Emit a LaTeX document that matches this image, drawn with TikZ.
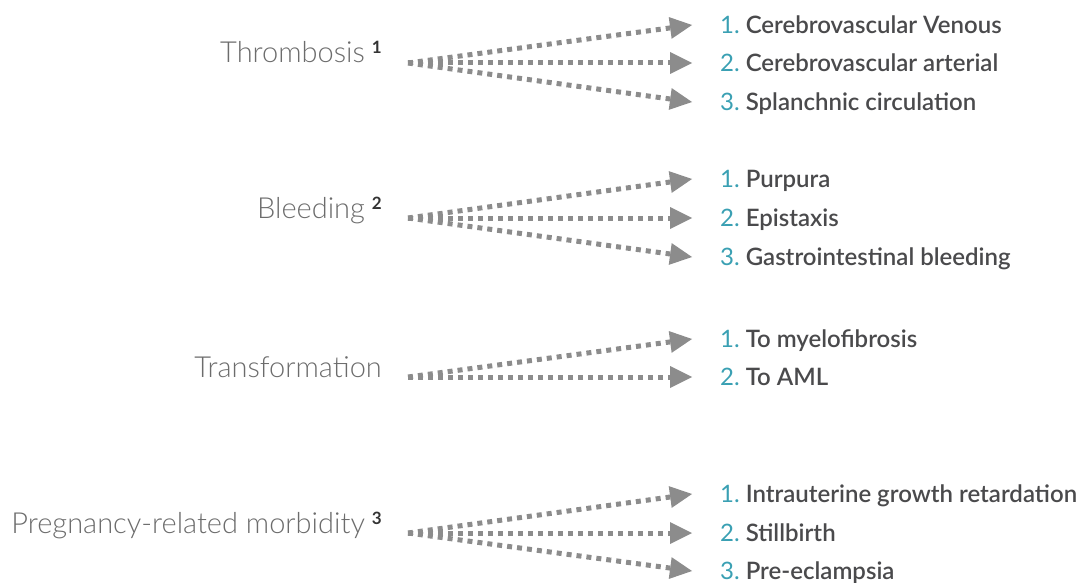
\documentclass[tikz,border=0pt]{standalone}
\usepackage{fontspec}
\setmainfont{Lato}
\newfontfamily\lightfont{Lato Light}
\newfontfamily\semifont{Lato Semibold}
\usetikzlibrary{arrows.meta,positioning}
\definecolor{causegray}{HTML}{6C6C6C}
\definecolor{notegray}{HTML}{333333}
\definecolor{itemgray}{HTML}{4A4A4C}
\definecolor{numteal}{HTML}{3AA0B3}
\definecolor{fangray}{HTML}{8C8C8C}
\newcommand\note[1]{\hspace{7pt}\raisebox{9pt}{\normalfont\fontsize{17}{17}\selectfont\bfseries\color{notegray}#1}}
\newcommand\itemno[1]{{\normalfont\fontsize{24}{24}\selectfont\color{numteal}#1}}

\begin{document}
\begin{tikzpicture}[x=1pt, y=-1pt,
    cause/.style={anchor=base east, inner sep=0pt, text=causegray, font=\lightfont\fontsize{29}{29}\selectfont},
    item/.style={anchor=west, inner xsep=28pt, inner ysep=0pt, text height=17pt, text depth=0pt, text=itemgray, font=\semifont\fontsize{24}{24}\selectfont},
    fan/.style={draw=fangray, line width=5pt, dash pattern=on 5pt off 5pt, -{Triangle[length=22pt, width=22pt, line width=0pt]}}]
    \useasboundingbox (0,0) rectangle (1079,583);

    % thrombosis
    \node[cause] (thr) at (382,63) {Thrombosis\note{1}};
    \coordinate (thr-o) at (408,63);
    \node[item] (thr-1) at (692,25) {\itemno{1.}\hspace{-2pt} Cerebrovascular Venous};
    \node[item] (thr-2) at (692,63) {\itemno{2.}\hspace{-2pt} Cerebrovascular arterial};
    \node[item] (thr-3) at (692,102) {\itemno{3.}\hspace{-2pt} Splanchnic circulation};

    % bleeding
    \node[cause] (ble) at (382,218) {Bleeding\note{2}};
    \coordinate (ble-o) at (408,218);
    \node[item] (ble-1) at (692,179) {\itemno{1.}\hspace{-2pt} Purpura};
    \node[item] (ble-2) at (692,218) {\itemno{2.}\hspace{-2pt} Epistaxis};
    \node[item] (ble-3) at (692,257) {\itemno{3.}\hspace{-2pt} Gastrointestinal bleeding};

    % transformation
    \node[cause] (tra) at (382,377) {Transformation};
    \coordinate (tra-o) at (408,377);
    \node[item] (tra-1) at (692,339) {\itemno{1.}\hspace{-2pt} To myelofibrosis};
    \node[item] (tra-2) at (692,377) {\itemno{2.}\hspace{-2pt} To AML};

    % pregnancy
    \node[cause] (pre) at (382,533) {Pregnancy-related morbidity\note{3}};
    \coordinate (pre-o) at (408,533);
    \node[item] (pre-1) at (692,494) {\itemno{1.}\hspace{-2pt} Intrauterine growth retardation};
    \node[item] (pre-2) at (692,533) {\itemno{2.}\hspace{-2pt} Stillbirth};
    \node[item] (pre-3) at (692,571) {\itemno{3.}\hspace{-2pt} Pre-eclampsia};

    \foreach \g in {thr,ble,pre}
        \foreach \i in {1,2,3}
            \draw[fan] (\g-o) -- (\g-\i.west);
    \foreach \i in {1,2}
        \draw[fan] (tra-o) -- (tra-\i.west);
\end{tikzpicture}
\end{document}
